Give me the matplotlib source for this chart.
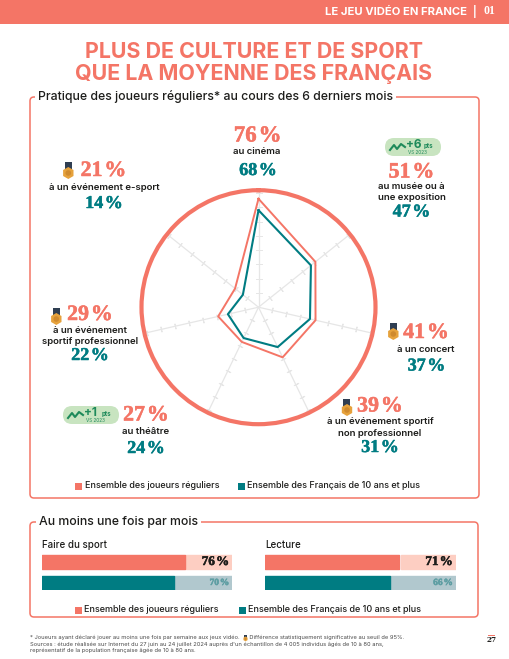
#!/usr/bin/env python3

import numpy as np
import matplotlib
matplotlib.use('Agg')
import matplotlib.pyplot as plt
import matplotlib.patheffects as pe
from matplotlib.patches import FancyBboxPatch, Rectangle, Circle, RegularPolygon

# Radar values, clockwise from the top
categories = ['cinema', 'musee', 'concert', 'sport_amateur', 'theatre', 'sport_pro', 'esport']
players = [76, 51, 41, 39, 27, 29, 21]
french = [68, 47, 37, 31, 24, 22, 14]

# Monthly bars
bar_titles = ['Faire du sport', 'Lecture']
bar_players = [76, 71]
bar_french = [70, 66]

legend_labels = ['Ensemble des joueurs réguliers', 'Ensemble des Français de 10 ans et plus']

CORAL = '#F47566'
TEAL = '#007C82'
LIGHT_CORAL = '#FDCEC2'
LIGHT_TEAL = '#B1C8CE'
INK = '#1D1D1B'
GREEN = '#1E8A5A'
SANS = 'Inter'
SERIF = 'Liberation Serif'

fig = plt.figure(figsize=(5.10, 6.59), dpi=100)

# Page layer in pixel coordinates
page = fig.add_axes([0, 0, 1, 1])
page.set_xlim(0, 510)
page.set_ylim(659, 0)
page.axis('off')


def sans(x, y, s, size=6.9, color=INK, weight='semibold', ha='center', **kw):
    return page.text(x, y, s, fontsize=size, color=color, fontweight=weight, ha=ha,
                     va='center', family=SANS, **kw)


def pct(ax, x, y, value, color, size=15.8, ha='center'):
    # y is the baseline; the stroke thickens the serif towards the original display face
    t = ax.text(x, y, f'{value}\u200a%', fontsize=size, color=color, fontweight='bold', ha=ha,
                va='baseline', family=SERIF)
    t.set_path_effects([pe.withStroke(linewidth=0.35, foreground=color)])


def medal(x, top, scale=1.0):
    page.add_patch(Rectangle((x - 3.5 * scale, top), 7 * scale, 8 * scale, color='#2F3E52', lw=0, zorder=3))
    page.add_patch(RegularPolygon((x, top + 11 * scale), 6, radius=6 * scale, color='#E6A23C', lw=0, zorder=4))
    page.add_patch(Circle((x, top + 11 * scale), 2.8 * scale, color='#CF8A2E', lw=0, zorder=5))


def badge(x, y, pts):
    page.add_patch(FancyBboxPatch((x, y), 56, 18, boxstyle='round,pad=0,rounding_size=9',
                                  facecolor='#C8E4C0', edgecolor='none', zorder=2))
    page.plot([x + 5, x + 9, x + 12, x + 16, x + 20], [y + 12, y + 7, y + 11, y + 6, y + 9],
              color=GREEN, lw=1.5, zorder=3)
    page.text(x + 21, y + 6.5, f'+{pts}', fontsize=8.5, color=GREEN, fontweight='bold', va='center', family=SANS, zorder=3)
    page.text(x + 39, y + 8, 'pts', fontsize=4.4, color=GREEN, fontweight='bold', va='center', family=SANS, zorder=3)
    page.text(x + 33, y + 15, 'VS 2023', fontsize=3.4, color=GREEN, ha='center', va='center', family=SANS, zorder=3)


def frame(x0, y0, x1, y1, title, title_x):
    page.add_patch(FancyBboxPatch((x0, y0), x1 - x0, y1 - y0, boxstyle='round,pad=0,rounding_size=4',
                                  facecolor='none', edgecolor=CORAL, lw=1.1))
    sans(title_x, y0, title, size=8.85, weight='medium', ha='left',
         bbox=dict(facecolor='white', edgecolor='none', pad=2.5))


def legend(y, xs):
    for (sq, tx), label, color in zip(xs, legend_labels, [CORAL, TEAL]):
        page.add_patch(Rectangle((sq, y - 3.5), 7, 7, color=color, lw=0))
        sans(tx, y, label, size=6.5, weight='medium', ha='left')


# Header
page.add_patch(Rectangle((0, 0), 510, 24, color=CORAL, lw=0))
sans(467, 11.5, 'LE JEU VIDÉO EN FRANCE', size=8.1, color='white', weight='bold', ha='right')
sans(475, 11.5, '|', size=7, color='white', weight='bold')
page.text(495, 11.5, '01', fontsize=8.5, color='white', fontweight='bold', ha='right', va='center', family=SERIF)

# Title
sans(254, 52, 'PLUS DE CULTURE ET DE SPORT', size=15.4, color=CORAL, weight='bold')
sans(254, 74, 'QUE LA MOYENNE DES FRANÇAIS', size=15.4, color=CORAL, weight='bold')

frame(30, 97, 479, 498, 'Pratique des joueurs réguliers* au cours des 6 derniers mois', 38)
frame(30, 522, 478, 617, 'Au moins une fois par mois', 39)

# Radar
cx, cy, radius = 258.5, 307.2, 117
radar = fig.add_axes([(cx - radius) / 510, 1 - (cy + radius) / 659, 2 * radius / 510, 2 * radius / 659],
                     projection='polar')
radar.patch.set_alpha(0)
radar.set_theta_zero_location('N')
radar.set_theta_direction(-1)
theta = np.arange(len(categories)) * 2 * np.pi / len(categories)
radar.set_xticks(theta)
radar.set_xticklabels([])
radar.set_rlim(0, 82)
radar.set_yticks([])
radar.grid(True, color='#E6E6E6', lw=0.9)
radar.spines['polar'].set_color(CORAL)
radar.spines['polar'].set_linewidth(3)
for t in theta:
    ticks = np.arange(10, 81, 10)
    radar.plot([t] * len(ticks), ticks, ls='none', marker=(2, 2, 90 - np.degrees(t)), ms=4,
               mec='#E6E6E6', mew=0.7, zorder=1)
radar.plot(np.r_[theta, theta[0]], players + players[:1], color=CORAL, lw=1.4, zorder=3)
radar.plot(np.r_[theta, theta[0]], french + french[:1], color=TEAL, lw=1.5, zorder=4)

# Radar labels: coral percent, text, teal percent
pct(page, 257.5, 141.5, players[0], CORAL, size=16.5)
sans(257, 152, 'au cinéma')
pct(page, 258, 175, french[0], TEAL, size=13)

pct(page, 411.5, 177.5, players[1], CORAL)
sans(411.5, 186.5, 'au musée ou à')
sans(411.5, 197.5, 'une exposition')
pct(page, 411.5, 216.5, french[1], TEAL, size=13)
badge(385, 138, 6)

pct(page, 426, 338, players[2], CORAL)
sans(426, 349.5, 'à un concert')
pct(page, 426.5, 370.5, french[2], TEAL, size=13)
medal(393.3, 323)

pct(page, 380, 411.5, players[3], CORAL)
sans(380, 421.5, 'à un événement sportif')
sans(380, 433, 'non professionnel')
pct(page, 380, 452, french[3], TEAL, size=13)
medal(347, 399)

pct(page, 146, 420.5, players[4], CORAL)
sans(146, 432, 'au théâtre')
pct(page, 146, 453, french[4], TEAL, size=13)
badge(63, 406, 1)

pct(page, 90, 320, players[5], CORAL)
sans(90, 330.5, 'à un événement')
sans(90, 341.5, 'sportif professionnel')
pct(page, 90, 360, french[5], TEAL, size=13)
medal(56.3, 308)

pct(page, 103.5, 176, players[6], CORAL)
sans(104, 187.5, 'à un événement e-sport')
pct(page, 104, 208, french[6], TEAL, size=13)
medal(68.3, 162)

legend(486, [(75, 85), (238, 247)])

# Monthly bars
for title, p, f, x0 in zip(bar_titles, bar_players, bar_french, [41.7, 265.3]):
    sans(x0, 544.5, title, size=7, weight='medium', ha='left')
    ax = fig.add_axes([x0 / 510, 1 - 590 / 659, 190.5 / 510, 36 / 659])
    ax.set_xlim(0, 100)
    ax.set_ylim(36, 0)
    ax.axis('off')
    for y, val, full, light in [(7.5, p, CORAL, LIGHT_CORAL), (28.5, f, TEAL, LIGHT_TEAL)]:
        ax.barh(y, 100 - val, left=val, height=14, color=light, edgecolor=light, lw=1, joinstyle='round')
        ax.barh(y, val - 0.8, height=14, color=full, edgecolor=full, lw=1, joinstyle='round')
    pct(ax, 98.5, 11, p, INK, size=9.5, ha='right')
    pct(ax, 98.5, 31, f, '#5E9EA3', size=6.8, ha='right')

legend(610, [(75, 84), (239, 248)])

# Footnotes
sans(30, 637.5, '* Joueurs ayant déclaré jouer au moins une fois par semaine aux jeux vidéo.      Différence statistiquement significative au seuil de 95%.',
     size=4.15, color='#4A4A4A', weight='normal', ha='left')
medal(245.5, 634.5, scale=0.4)
sans(30, 644, "Sources : étude réalisée sur Internet du 27 juin au 24 juillet 2024 auprès d'un échantillon de 4 005 individus âgés de 10 à 80 ans,",
     size=4.15, color='#4A4A4A', weight='normal', ha='left')
sans(30, 650.5, 'représentatif de la population française âgée de 10 à 80 ans.', size=4.15, color='#4A4A4A', weight='normal', ha='left')
page.add_patch(Rectangle((488, 635), 7, 1, color=CORAL, lw=0))
page.text(491.5, 640.5, '27', fontsize=5.2, color=INK, fontweight='bold', ha='center', va='center', family='DejaVu Serif')

fig.savefig('out.png', dpi=100)
